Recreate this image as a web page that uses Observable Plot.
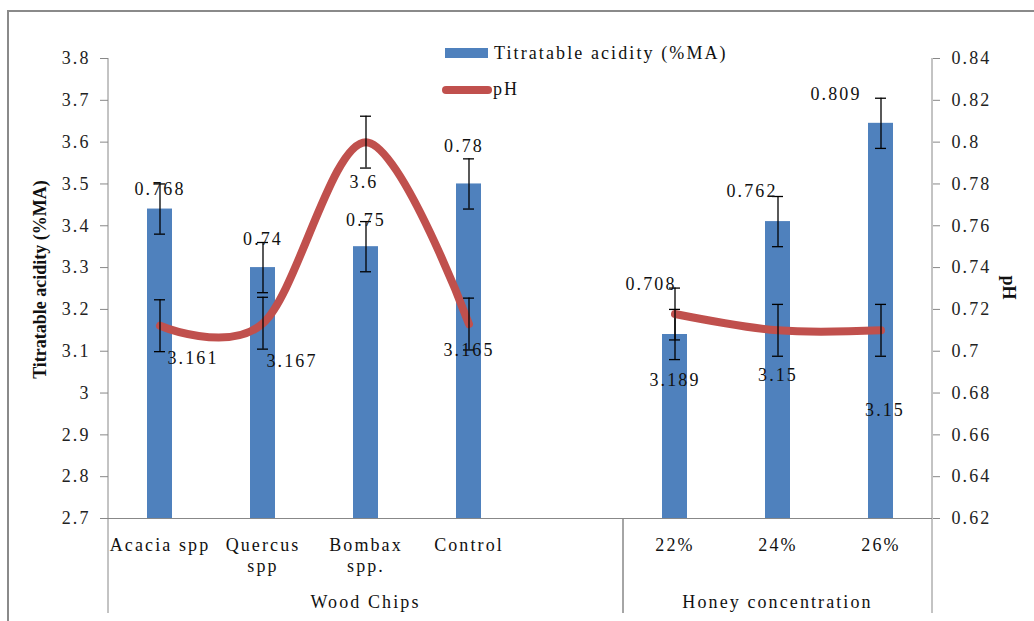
<!DOCTYPE html>
<html><head><meta charset="utf-8">
<script src="https://cdn.jsdelivr.net/npm/d3@7"></script>
<script src="https://cdn.jsdelivr.net/npm/@observablehq/plot@0.6"></script>
<style>
body{margin:0;background:#fff;}
#wrap{position:relative;width:1034px;height:621px;overflow:hidden;font-family:"Liberation Serif",serif;background:#fff;}
#border{position:absolute;left:7px;top:10px;width:1100px;height:700px;border-left:2px solid #8a8a8a;border-top:2px solid #8a8a8a;}
.lg{position:absolute;font-size:18px;letter-spacing:2.1px;color:#111;line-height:1;white-space:nowrap;}
</style></head><body>
<div id="wrap"><div id="chart"></div><div id="border"></div>
<div class="lg" style="left:445px;top:48px;width:43px;height:10px;background:#4F81BD"></div>
<div class="lg" style="left:494px;top:44px;">Titratable acidity (%MA)</div>
<div class="lg" style="left:442px;top:86px;width:50px;height:8px;border-radius:4px;background:#C0504D"></div>
<div class="lg" style="left:493px;top:80px;">pH</div>
</div>
<script>
// ---- data ----
const categories = ["Acacia spp","Quercus spp","Bombax spp.","Control","","22%","24%","26%"];
const tickLabels = ["Acacia spp","Quercus\nspp","Bombax\nspp.","Control","","22%","24%","26%"];
const groupNames = ["Wood Chips","Honey concentration"];
const groupFirst = ["Acacia spp","22%"];
const groupLast = ["","26%"];
const treatments = ["Acacia spp","Quercus spp","Bombax spp.","Control","22%","24%","26%"];
const treatmentGroup = ["Wood Chips","Wood Chips","Wood Chips","Wood Chips","Honey concentration","Honey concentration","Honey concentration"];
const acidity = [0.768,0.74,0.75,0.78,0.708,0.762,0.809];
const acidityErr = [0.012,0.012,0.012,0.012,0.012,0.012,0.012];
const pH = [3.161,3.167,3.6,3.165,3.189,3.15,3.15];
const pHErr = [0.062,0.062,0.062,0.062,0.062,0.062,0.062];
const leftTicks = [2.7,2.8,2.9,3,3.1,3.2,3.3,3.4,3.5,3.6,3.7,3.8];
const rightTicks = [0.62,0.64,0.66,0.68,0.7,0.72,0.74,0.76,0.78,0.8,0.82,0.84];
// label nudges (pixels)
const barLabelDx = [0,0,0,-5,-24,-26,-45];
const barLabelDy = [-20,-28,-26,-38,-50,-30,-29];
const pHLabelDx = [33,29,-2,0,0,0,4];
const pHLabelDy = [33,38,40,26,66,45,80];

const L0 = leftTicks[0], L1 = leftTicks[leftTicks.length-1];
const R0 = rightTicks[0], R1 = rightTicks[rightTicks.length-1];
const toLeft = v => L0 + (v - R0) * (L1 - L0) / (R1 - R0);

const rows = treatments.map((t,i) => ({t, g: treatmentGroup[i], a: acidity[i], ae: acidityErr[i], p: pH[i], pe: pHErr[i], i}));

const GRID = "#888";

function groupAxis(index, scales, values, dims) {
  const x = scales.x;
  const bw = typeof x.bandwidth === "function" ? x.bandwidth() : x.bandwidth;
  const yb = dims.height - dims.marginBottom;
  const yEnd = dims.height - 8;
  const xl = dims.marginLeft, xr = dims.width - dims.marginRight;
  const g = d3.create("svg:g");
  // axis lines
  g.append("line").attr("x1", xl).attr("x2", xl).attr("y1", dims.marginTop).attr("y2", yb).attr("stroke", GRID);
  g.append("line").attr("x1", xr).attr("x2", xr).attr("y1", dims.marginTop).attr("y2", yb).attr("stroke", GRID);
  groupNames.forEach((name, k) => {
    const a = x(groupFirst[k]), b = x(groupLast[k]) + bw;
    [a, b].forEach(xx => g.append("line").attr("x1", xx).attr("x2", xx).attr("y1", yb).attr("y2", yEnd).attr("stroke", GRID));
    g.append("text").attr("x", (a + b) / 2).attr("y", yb + 84).attr("dy", "0.32em")
      .attr("text-anchor", "middle").attr("fill", "#111").text(name);
  });
  return g.node();
}

const labelMarks = [];
rows.forEach((d, k) => {
  labelMarks.push(Plot.text([d], {x: "t", y: r => toLeft(r.a), text: r => String(r.a), dx: barLabelDx[k], dy: barLabelDy[k], fill: "#111"}));
  labelMarks.push(Plot.text([d], {x: "t", y: "p", text: r => String(r.p), dx: pHLabelDx[k], dy: pHLabelDy[k], fill: "#111"}));
});

const chart = Plot.plot({
  width: 1034, height: 621,
  marginTop: 58, marginBottom: 103, marginLeft: 108, marginRight: 102,
  style: {fontFamily: "Liberation Serif", fontSize: "18px", letterSpacing: "2.1px", color: "#222", background: "transparent", overflow: "visible"},
  x: {type: "band", domain: categories, padding: 0, axis: null},
  y: {domain: [L0, L1], axis: null},
  marks: [
    Plot.barY(rows, {x: "t", y1: L0, y2: d => toLeft(d.a), fill: "#4F81BD", insetLeft: 39, insetRight: 39}),
    Plot.ruleX(rows, {x: "t", y1: d => toLeft(d.a - d.ae), y2: d => toLeft(d.a + d.ae), stroke: "#000", strokeWidth: 1.3}),
    Plot.tickY(rows, {x: "t", y: d => toLeft(d.a + d.ae), insetLeft: 46, insetRight: 46, stroke: "#000", strokeWidth: 1.3}),
    Plot.tickY(rows, {x: "t", y: d => toLeft(d.a - d.ae), insetLeft: 46, insetRight: 46, stroke: "#000", strokeWidth: 1.3}),
    Plot.line(rows, {x: "t", y: "p", z: "g", stroke: "#C0504D", strokeWidth: 8, curve: "cardinal", strokeLinecap: "round", strokeLinejoin: "round"}),
    Plot.ruleX(rows, {x: "t", y1: d => d.p - d.pe, y2: d => d.p + d.pe, stroke: "#000", strokeWidth: 1.3}),
    Plot.tickY(rows, {x: "t", y: d => d.p + d.pe, insetLeft: 46, insetRight: 46, stroke: "#000", strokeWidth: 1.3}),
    Plot.tickY(rows, {x: "t", y: d => d.p - d.pe, insetLeft: 46, insetRight: 46, stroke: "#000", strokeWidth: 1.3}),
    Plot.ruleY([L0], {stroke: GRID}),
    Plot.axisY(leftTicks, {anchor: "left", tickSize: 8, tickPadding: 10, stroke: GRID, fill: "#222", tickFormat: d => String(d), label: null}),
    Plot.axisY(rightTicks.map(toLeft), {anchor: "right", tickSize: 7, tickPadding: 12, stroke: GRID, fill: "#222", tickFormat: (v) => String(rightTicks[d3.minIndex(rightTicks, r => Math.abs(toLeft(r) - v))]), label: null}),
    Plot.axisX({tickSize: 0, tickPadding: 17, lineHeight: 1.2, fill: "#111", tickFormat: c => tickLabels[categories.indexOf(c)], label: null}),
    groupAxis,
    ...labelMarks,
    Plot.text(["Titratable acidity (%MA)"], {frameAnchor: "left", textAnchor: "middle", dx: -68, dy: -9, rotate: -90, fontWeight: "bold", fill: "#111"}),
    Plot.text(["pH"], {frameAnchor: "right", textAnchor: "middle", dx: 76, dy: -1, rotate: 90, fontWeight: "bold", fill: "#111"})
  ]
});
d3.select(chart).selectAll("g[font-weight='bold']").attr("letter-spacing", "0").style("letter-spacing", "0");
document.getElementById("chart").appendChild(chart);
</script>
</body></html>
